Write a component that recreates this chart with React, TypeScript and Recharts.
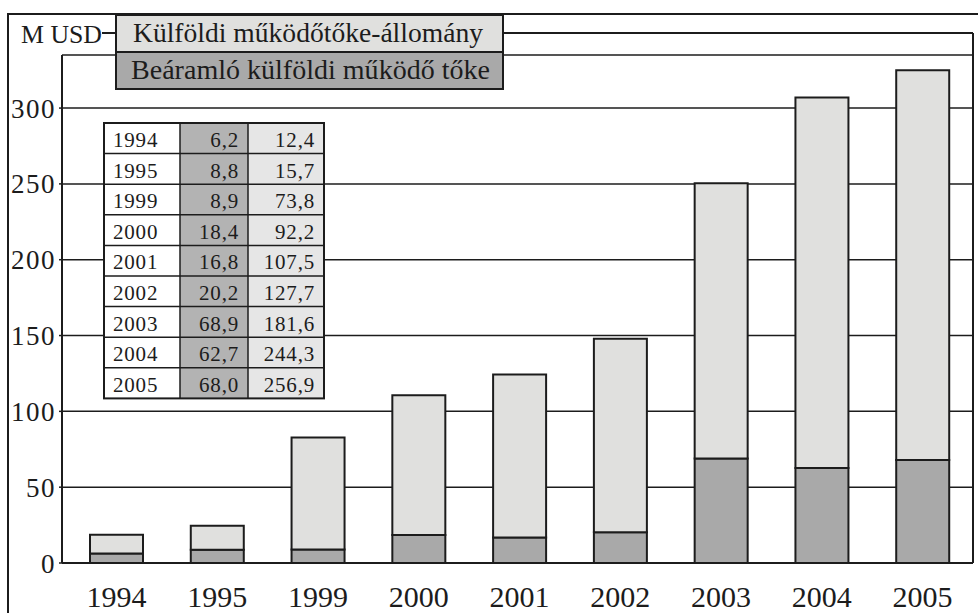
import React from 'react';
import { BarChart, Bar, XAxis, YAxis, CartesianGrid } from 'recharts';

// years shown on the x axis and in the table
const years = ['1994', '1995', '1999', '2000', '2001', '2002', '2003', '2004', '2005'];
// Beáramló külföldi működő tőke (M USD)
const inflow = [6.2, 8.8, 8.9, 18.4, 16.8, 20.2, 68.9, 62.7, 68.0];
// Külföldi működőtőke-állomány (M USD)
const stock = [12.4, 15.7, 73.8, 92.2, 107.5, 127.7, 181.6, 244.3, 256.9];
const yTicks = [0, 50, 100, 150, 200, 250, 300];

const data = years.map((y, i) => ({ year: y, inflow: inflow[i], stock: stock[i] }));

const FONT = 'Liberation Serif, DejaVu Serif, serif';
const DARK = '#a9a9a9';
const LIGHT = '#e0e0de';
const INK = '#1c1c1c';

const fmt = (v: number) => v.toFixed(1).replace('.', ',');

const Overlay = () => {
    const tx = [104, 180, 248, 324];
    const top = 123;
    const rowH = 30.6;
    return (
        <svg width={978} height={613} style={{ position: 'absolute', left: 0, top: 0, pointerEvents: 'none' }}>
            {/* outer frame */}
            <line x1={7} y1={14} x2={978} y2={14} stroke={INK} strokeWidth={2} />
            <line x1={8} y1={14} x2={8} y2={613} stroke={INK} strokeWidth={2} />
            {/* inner frame top + right */}
            <line x1={102} y1={33} x2={973} y2={33} stroke={INK} strokeWidth={2} />
            <line x1={973} y1={33} x2={973} y2={563} stroke={INK} strokeWidth={2} />
            <text x={21} y={43} fontFamily={FONT} fontSize={26} fill={INK} textLength={81} lengthAdjust="spacingAndGlyphs">M USD</text>

            {/* legend box */}
            <rect x={116} y={15} width={387} height={37} fill={LIGHT} stroke={INK} strokeWidth={2} />
            <rect x={116} y={52} width={387} height={37} fill={DARK} stroke={INK} strokeWidth={2} />
            <text x={133} y={42} fontFamily={FONT} fontSize={27} fill={INK} textLength={350} lengthAdjust="spacingAndGlyphs">
                Külföldi működőtőke-állomány
            </text>
            <text x={131} y={79} fontFamily={FONT} fontSize={27} fill={INK} textLength={359} lengthAdjust="spacingAndGlyphs">
                Beáramló külföldi működő tőke
            </text>

            {/* data table */}
            <rect x={tx[0]} y={top} width={tx[1] - tx[0]} height={rowH * years.length} fill="#ffffff" />
            <rect x={tx[1]} y={top} width={tx[2] - tx[1]} height={rowH * years.length} fill="#b3b3b3" />
            <rect x={tx[2]} y={top} width={tx[3] - tx[2]} height={rowH * years.length} fill="#e6e6e6" />
            {years.map((y, i) => {
                const ry = top + i * rowH;
                return (
                    <g key={y}>
                        <line x1={tx[0]} y1={ry} x2={tx[3]} y2={ry} stroke={INK} strokeWidth={1.5} />
                        <text x={113} y={ry + 24} fontFamily={FONT} fontSize={21} fill={INK} letterSpacing={0.8}>{y}</text>
                        <text x={239} y={ry + 24} fontFamily={FONT} fontSize={21} fill={INK} textAnchor="end" letterSpacing={0.8}>{fmt(inflow[i])}</text>
                        <text x={315} y={ry + 24} fontFamily={FONT} fontSize={21} fill={INK} textAnchor="end" letterSpacing={0.8}>{fmt(stock[i])}</text>
                    </g>
                );
            })}
            <rect x={tx[0]} y={top} width={tx[3] - tx[0]} height={rowH * years.length} fill="none" stroke={INK} strokeWidth={2} />
            <line x1={tx[1]} y1={top} x2={tx[1]} y2={top + rowH * years.length} stroke={INK} strokeWidth={1.5} />
            <line x1={tx[2]} y1={top} x2={tx[2]} y2={top + rowH * years.length} stroke={INK} strokeWidth={1.5} />
        </svg>
    );
};

export default function App() {
    return (
        <div style={{ position: 'absolute', left: 0, top: 0, width: 978, height: 613, background: '#fff', overflow: 'hidden' }}>
            <BarChart width={978} height={613} data={data} margin={{ top: 55, right: 5, bottom: 0, left: 0 }} barSize={53}>
                <CartesianGrid horizontal={true} vertical={false} stroke={INK} strokeWidth={1.5} strokeOpacity={1} />
                <XAxis dataKey="year" height={50} tickLine={false} axisLine={{ stroke: INK, strokeWidth: 2 }} padding={{ left: 4, right: 0 }}
                       tick={{ fontFamily: FONT, fontSize: 30, fill: INK }} tickMargin={17} />
                <YAxis domain={[0, 335]} ticks={yTicks} width={62} allowDataOverflow
                       axisLine={{ stroke: INK, strokeWidth: 2 }} tickLine={{ stroke: INK, strokeWidth: 1.5 }} tickSize={3} tickMargin={3}
                       tick={{ fontFamily: FONT, fontSize: 27, fill: INK, letterSpacing: 1.5 }} />
                <Bar dataKey="inflow" stackId="a" fill={DARK} stroke={INK} strokeWidth={2} isAnimationActive={false} />
                <Bar dataKey="stock" stackId="a" fill={LIGHT} stroke={INK} strokeWidth={2} isAnimationActive={false} />
            </BarChart>
            <Overlay />
        </div>
    );
}
